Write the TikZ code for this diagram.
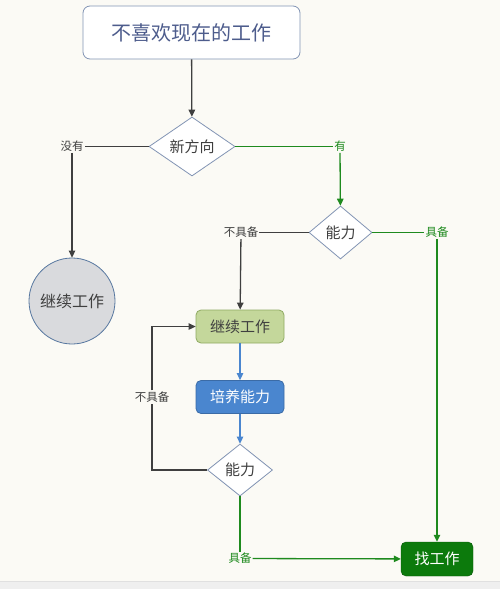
\documentclass[tikz,border=0pt]{standalone}
\usepackage{fontspec}
\setmainfont{Noto Sans CJK SC}
\usetikzlibrary{shapes.geometric,arrows.meta}
\definecolor{bg}{HTML}{FBFAF5}
\definecolor{strip}{HTML}{EFEFEF}
\definecolor{ink}{HTML}{3F3F3F}
\definecolor{grn}{HTML}{1E8A1E}
\definecolor{blu}{HTML}{4A86CF}
\definecolor{frame}{HTML}{8294B4}
\definecolor{toptext}{HTML}{4D5C8C}
\definecolor{circfill}{HTML}{D9DADD}
\definecolor{circline}{HTML}{5878A0}
\definecolor{b1fill}{HTML}{C4D79B}
\definecolor{b1line}{HTML}{8FAA62}
\definecolor{ffill}{HTML}{0C7A0C}
\begin{document}
\begin{tikzpicture}[x=1pt,y=-1pt,
  lbl/.style={inner sep=1pt,font=\fontsize{11.5}{13}\selectfont},
  dia/.style={diamond,draw=frame,fill=white,line width=0.8pt,aspect=1.5,inner sep=0pt,font=\fontsize{15}{18}\selectfont,text=ink},
  boxs/.style={rounded corners=5pt,line width=0.8pt,minimum width=88pt,minimum height=33pt,font=\fontsize{15}{18}\selectfont},
  gl/.style={draw=ink,line width=1.3pt},
  gg/.style={draw=grn,line width=1.3pt},
  gb/.style={draw=blu,line width=1.3pt},
  tip/.style={-{Triangle[length=7pt,width=6.5pt]}}
]
\useasboundingbox (0,0) rectangle (500,589);
\fill[bg] (0,0) rectangle (500,589);
\fill[strip] (0,581) rectangle (500,589);
\draw[draw=black!12] (0,581) -- (500,581);

% nodes
\node[draw=frame,fill=white,rounded corners=7pt,line width=0.8pt,minimum width=217pt,minimum height=53pt,font=\fontsize{20}{24}\selectfont,text=toptext] (top) at (191.5,32.5) {不喜欢现在的工作};
\node[dia,minimum width=86pt,minimum height=59pt] (d1) at (192,146.5) {新方向};
\node[dia,minimum width=63pt,minimum height=53pt] (d2) at (340.5,232.5) {能力};
\node[circle,draw=circline,fill=circfill,line width=0.8pt,minimum size=86pt,font=\fontsize{16}{19}\selectfont,text=ink] (c1) at (72,301) {继续工作};
\node[boxs,draw=b1line,fill=b1fill,text=ink] (b1) at (240,326.5) {继续工作};
\node[boxs,draw=blu!80!black,fill=blu,text=white] (b2) at (240,397) {培养能力};
\node[dia,minimum width=65pt,minimum height=52pt] (d3) at (240,470) {能力};
\node[draw=ffill!70!black,fill=ffill,rounded corners=5pt,minimum width=72pt,minimum height=34pt,font=\fontsize{15}{18}\selectfont,text=white] (f) at (437,559) {找工作};

% labels
\node[lbl,text=ink] (lno) at (72,146.5) {没有};
\node[lbl,text=grn] (lyes) at (340,146.5) {有};
\node[lbl,text=ink] (lno2) at (241,232.5) {不具备};
\node[lbl,text=grn] (lyes2) at (437,232.5) {具备};
\node[lbl,text=ink] (lno3) at (152,397) {不具备};
\node[lbl,text=grn] (lyes3) at (240,558.5) {具备};
\coordinate (k1) at (152,470);
\coordinate (k2) at (152,326.5);

% connectors
\draw[gl,tip] (top) -- (d1);
\draw[gl] (d1) -- (lno);
\draw[gl,tip] (lno) -- (c1);
\draw[gg] (d1) -- (lyes);
\draw[gg,tip] (lyes) -- (d2);
\draw[gl] (d2) -- (lno2);
\draw[gl,tip] (lno2) -- (b1);
\draw[gg] (d2) -- (lyes2);
\draw[gg,tip] (lyes2) -- (f);
\draw[gb,tip] (b1) -- (b2);
\draw[gb,tip] (b2) -- (d3);
\draw[gl] (d3.west) -- (k1) -- (lno3);
\draw[gl,tip] (lno3) -- (k2) -- (b1.west);
\draw[gg] (d3) -- (lyes3);
\draw[gg,tip] (lyes3) -- (f);
\end{tikzpicture}
\end{document}
